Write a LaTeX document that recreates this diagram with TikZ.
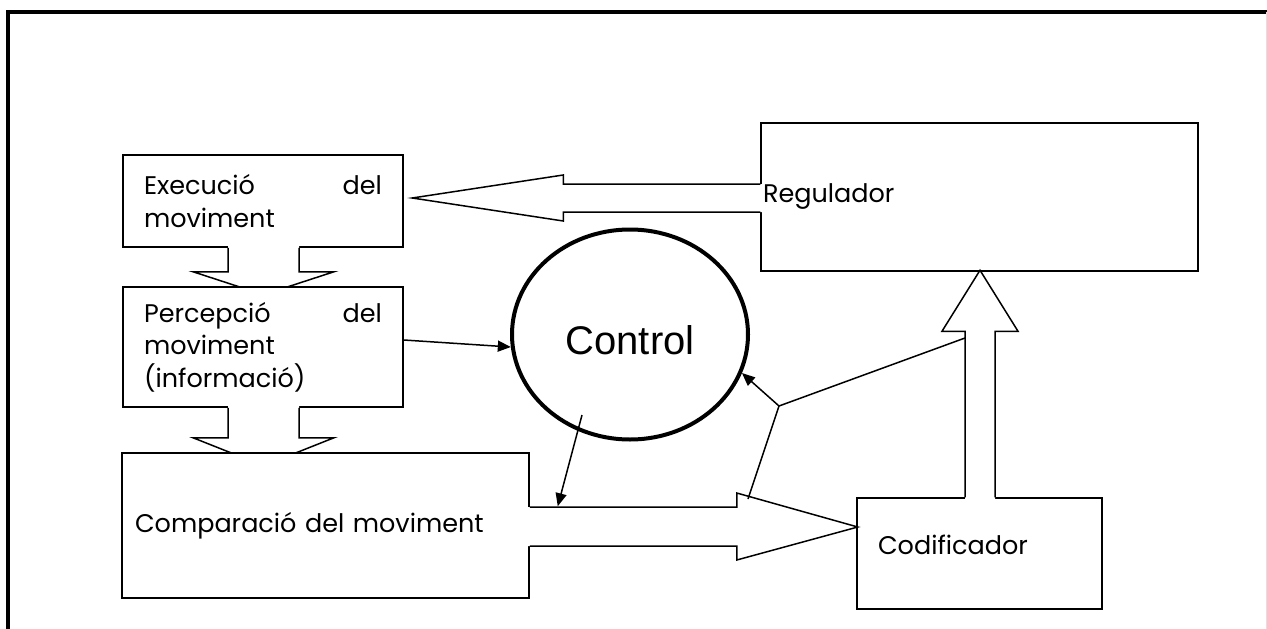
\documentclass[tikz,border=0pt]{standalone}
\usepackage{fontspec}
\setmainfont{Poppins}
\newfontfamily\ctrlfont{Liberation Sans}
\usetikzlibrary{shapes.geometric,arrows.meta,calc}
\begin{document}
\begin{tikzpicture}[x=1pt,y=-1pt,line join=miter,
  box/.style={draw,fill=white,line width=1.5pt,rectangle,inner sep=0pt,
    font=\fontsize{25.5}{32.5}\selectfont,align=left},
  blk/.style={line width=1.5pt},
  con/.style={line width=1.5pt,-{Triangle[length=13pt,width=11pt]}},
  thin/.style={line width=1.5pt}]
\useasboundingbox (0,0) rectangle (1267,629);
% frame
\draw[line width=4pt] (8,629) -- (8,12) -- (1267,12);
\draw[black!12,line width=1pt] (1266,12) -- (1266,629);

% Execucio
\node[box,minimum width=280,minimum height=92,text width=238] (exec) at (263,201)
  {Execució\hfill del\\moviment};
% block arrow exec -> perc
\fill[white] ($(exec.south)+(-35,-3)$) -- ++(0,27) -- ++(-35,0) -- ++(70.5,23) -- ++(70.5,-23) -- ++(-35,0) -- ++(0,-27) -- cycle;
\draw[blk] ($(exec.south)+(-35,0)$) -- ++(0,24) -- ++(-35,0) -- ++(70.5,23) -- ++(70.5,-23) -- ++(-35,0) -- ++(0,-24);

% Percepcio
\node[box,minimum width=280,minimum height=120,text width=238] (perc) at (263,347)
  {Percepció\hfill del\\moviment\\(informació)};
% block arrow perc -> comp
\fill[white] ($(perc.south)+(-35,-3)$) -- ++(0,33) -- ++(-35,0) -- ++(70.5,28) -- ++(70.5,-28) -- ++(-35,0) -- ++(0,-33) -- cycle;
\draw[blk] ($(perc.south)+(-35,0)$) -- ++(0,30) -- ++(-35,0) -- ++(70.5,28) -- ++(70.5,-28) -- ++(-35,0) -- ++(0,-30);

% Comparacio
\node[box,minimum width=407,minimum height=145,text width=381] (comp) at (325.5,525.5)
  {Comparació del moviment};

% Codificador
\node[box,minimum width=245,minimum height=111,text width=203,text depth=17pt] (cod) at (979.5,553.5)
  {Codificador};

% Regulador
\node[box,minimum width=437,minimum height=148,text width=433] (reg) at (979.5,197)
  {Regulador};

% block arrow comp -> cod
\fill[white] ($(comp.east)+(-3,-18.5)$) -- ++(210,0) -- ++(0,-14) -- ++(121,34) -- ++(-121,33) -- ++(0,-14) -- ++(-210,0) -- cycle;
\draw[blk] ($(comp.east)+(0,-18.5)$) -- ++(207,0) -- ++(0,-14) -- ++(121,34) -- ++(-121,33) -- ++(0,-14) -- ++(-207,0);

% block arrow reg -> exec
\fill[white] ($(reg.west)+(3,-13)$) -- ++(-200,0) -- ++(0,-9) -- ++(-151,23) -- ++(151,23) -- ++(0,-9) -- ++(200,0) -- cycle;
\draw[blk] ($(reg.west)+(0,-13)$) -- ++(-197,0) -- ++(0,-9) -- ++(-151,23) -- ++(151,23) -- ++(0,-9) -- ++(197,0);

% block arrow cod -> reg
\fill[white] ($(cod.north)+(-14.5,3)$) -- ++(0,-169) -- ++(-23,0) -- ++(38,-61) -- ++(38,61) -- ++(-23,0) -- ++(0,169) -- cycle;
\draw[blk] ($(cod.north)+(-14.5,0)$) -- ++(0,-166) -- ++(-23,0) -- ++(38,-61) -- ++(38,61) -- ++(-23,0) -- ++(0,166);

% Control
\node[draw,ellipse,line width=4pt,inner sep=0pt,minimum width=236,minimum height=210,
  font=\ctrlfont\fontsize{40}{42}\selectfont,text height=39pt,text depth=0pt] (ctrl) at (630,334.5) {Control};

% connectors
\coordinate (c1) at ($(ctrl.center)+(-48,80.5)$);
\coordinate (c2) at ($(comp.north east)+(28,54)$);
\coordinate (fb1) at (748,499);
\coordinate (j) at (779,406);
\coordinate (fb2) at (965,338);
\draw[con] ([yshift=7pt]perc.east) -- (ctrl.186);
\draw[con] (c1) -- (c2);
\draw[thin] (fb1) -- (j);
\draw[con] (j) -- (ctrl.-19);
\draw[thin] (j) -- (fb2);
\end{tikzpicture}
\end{document}
